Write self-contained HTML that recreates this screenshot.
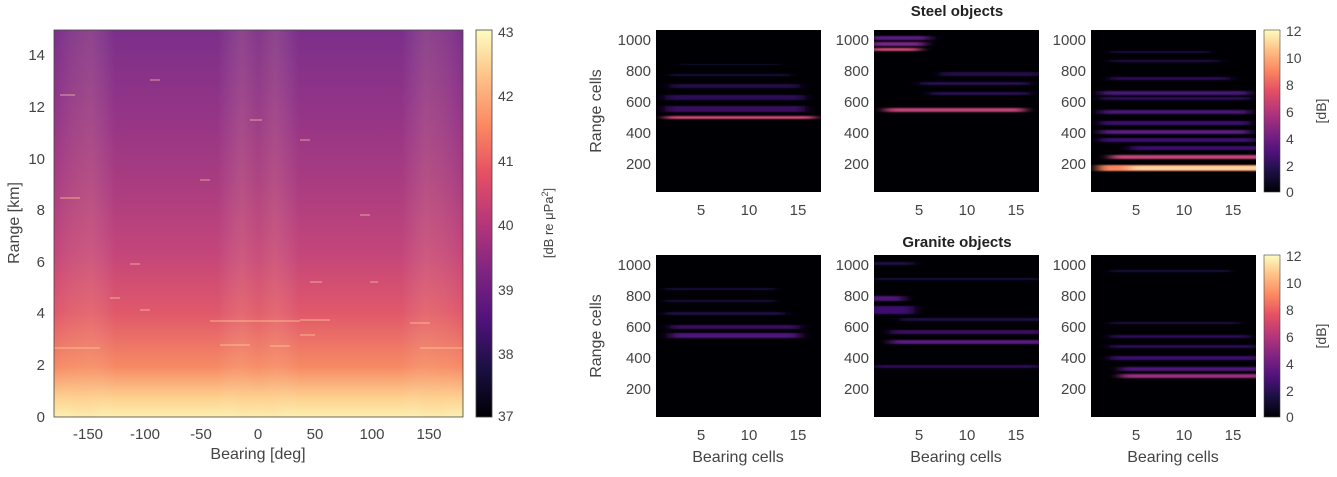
<!DOCTYPE html><html><head><meta charset="utf-8"><style>body{margin:0;background:#fff}svg{display:block;font-family:"Liberation Sans",sans-serif}</style></head><body>
<svg width="1337" height="477" viewBox="0 0 1337 477">
<defs>
<linearGradient id="bg" x1="0" y1="1" x2="0" y2="0">
<stop offset="0" stop-color="#fcf0b0"/><stop offset="0.05" stop-color="#fdd08e"/><stop offset="0.13" stop-color="#f68a64"/><stop offset="0.27" stop-color="#e0586a"/><stop offset="0.42" stop-color="#c4467a"/><stop offset="0.6" stop-color="#aa3c80"/><stop offset="0.8" stop-color="#923487"/><stop offset="1" stop-color="#7b2f8a"/></linearGradient>
<linearGradient id="vs" x1="0" y1="0" x2="1" y2="0">
<stop offset="0" stop-color="#fff" stop-opacity="0"/><stop offset="0.05" stop-color="#ffd0a0" stop-opacity="0.1"/><stop offset="0.09" stop-color="#ffd0a0" stop-opacity="0.14"/><stop offset="0.15" stop-color="#fff" stop-opacity="0"/><stop offset="0.4" stop-color="#fff" stop-opacity="0"/><stop offset="0.46" stop-color="#ffd0a0" stop-opacity="0.14"/><stop offset="0.5" stop-color="#ffd0a0" stop-opacity="0.06"/><stop offset="0.54" stop-color="#ffd0a0" stop-opacity="0.14"/><stop offset="0.6" stop-color="#fff" stop-opacity="0"/><stop offset="0.85" stop-color="#fff" stop-opacity="0"/><stop offset="0.91" stop-color="#ffd0a0" stop-opacity="0.14"/><stop offset="0.95" stop-color="#ffd0a0" stop-opacity="0.1"/><stop offset="1" stop-color="#fff" stop-opacity="0"/></linearGradient>
<linearGradient id="mag" x1="0" y1="1" x2="0" y2="0">
<stop offset="0" stop-color="#000004"/><stop offset="0.13" stop-color="#1c1044"/><stop offset="0.25" stop-color="#4f127b"/><stop offset="0.38" stop-color="#812581"/><stop offset="0.5" stop-color="#b5367a"/><stop offset="0.63" stop-color="#e55064"/><stop offset="0.75" stop-color="#fb8761"/><stop offset="0.88" stop-color="#fec287"/><stop offset="1" stop-color="#fcfdbf"/></linearGradient>
<filter id="bl" x="-20%" y="-200%" width="140%" height="500%"><feGaussianBlur stdDeviation="6 0.8"/></filter>
<clipPath id="c1"><rect x="656" y="30" width="165" height="162"/></clipPath>
<clipPath id="c2"><rect x="874" y="30" width="165" height="162"/></clipPath>
<clipPath id="c3"><rect x="1091" y="30" width="165" height="162"/></clipPath>
<clipPath id="c4"><rect x="656" y="255" width="165" height="162"/></clipPath>
<clipPath id="c5"><rect x="874" y="255" width="165" height="162"/></clipPath>
<clipPath id="c6"><rect x="1091" y="255" width="165" height="162"/></clipPath>
</defs>
<rect x="54" y="30" width="409" height="387" fill="url(#bg)"/>
<rect x="54" y="30" width="409" height="387" fill="url(#vs)"/>
<g stroke="#ffd9a0" stroke-width="1.2" opacity="0.55">
<line x1="54" y1="348" x2="100" y2="348"/><line x1="420" y1="348" x2="463" y2="348"/>
<line x1="210" y1="321" x2="300" y2="321"/><line x1="300" y1="320" x2="330" y2="320"/>
<line x1="220" y1="345" x2="250" y2="345"/><line x1="270" y1="346" x2="290" y2="346"/>
<line x1="410" y1="323" x2="430" y2="323"/><line x1="300" y1="335" x2="315" y2="335"/>
<line x1="140" y1="310" x2="150" y2="310"/><line x1="110" y1="298" x2="120" y2="298"/>
<line x1="310" y1="282" x2="322" y2="282"/><line x1="370" y1="282" x2="378" y2="282"/>
<line x1="130" y1="264" x2="140" y2="264"/><line x1="360" y1="215" x2="370" y2="215"/>
<line x1="60" y1="198" x2="80" y2="198"/><line x1="200" y1="180" x2="210" y2="180"/>
<line x1="60" y1="95" x2="75" y2="95"/><line x1="250" y1="120" x2="262" y2="120"/>
<line x1="150" y1="80" x2="160" y2="80"/><line x1="300" y1="140" x2="310" y2="140"/>
</g>
<rect x="54" y="30" width="409" height="387" fill="none" stroke="#444" stroke-width="0.8"/>
<g font-size="15" fill="#444" text-anchor="middle">
<text x="88" y="439">-150</text><text x="145" y="439">-100</text><text x="201" y="439">-50</text><text x="258" y="439">0</text><text x="315" y="439">50</text><text x="372" y="439">100</text><text x="429" y="439">150</text>
<text x="258" y="459" font-size="16">Bearing [deg]</text>
</g>
<g font-size="15" fill="#444" text-anchor="end">
<text x="45" y="422">0</text><text x="45" y="370">2</text><text x="45" y="318">4</text><text x="45" y="267">6</text><text x="45" y="215">8</text><text x="45" y="164">10</text><text x="45" y="112">12</text><text x="45" y="60">14</text>
</g>
<text transform="translate(19,223) rotate(-90)" font-size="16" fill="#444" text-anchor="middle">Range [km]</text>
<rect x="476" y="30" width="16" height="387" fill="url(#mag)" stroke="#444" stroke-width="0.8"/>
<g font-size="14" fill="#444">
<text x="498" y="37">43</text><text x="498" y="101">42</text><text x="498" y="166">41</text><text x="498" y="230">40</text><text x="498" y="295">39</text><text x="498" y="359">38</text><text x="498" y="421">37</text>
</g>
<text transform="translate(553,223) rotate(-90)" font-size="13" fill="#444" text-anchor="middle">[dB re μPa<tspan font-size="9" dy="-5">2</tspan><tspan dy="5">]</tspan></text>

<rect x="656" y="30" width="165" height="162" fill="#000004"/>
<rect x="874" y="30" width="165" height="162" fill="#000004"/>
<rect x="1091" y="30" width="165" height="162" fill="#000004"/>
<rect x="656" y="255" width="165" height="162" fill="#000004"/>
<rect x="874" y="255" width="165" height="162" fill="#000004"/>
<rect x="1091" y="255" width="165" height="162" fill="#000004"/>
<g clip-path="url(#c1)"><g filter="url(#bl)">
<rect x="665" y="116" width="150" height="3" fill="#d04a76"/>
<rect x="665" y="106" width="140" height="6" fill="#3a1060"/>
<rect x="665" y="95" width="140" height="5" fill="#2c0c55"/>
<rect x="670" y="84" width="130" height="4" fill="#21084a"/>
<rect x="670" y="74" width="120" height="2" fill="#1a0840"/>
<rect x="680" y="64" width="100" height="1" fill="#1a0840"/>
</g></g>
<g clip-path="url(#c2)"><g filter="url(#bl)">
<rect x="870" y="36" width="60" height="4" fill="#5a1a80"/>
<rect x="870" y="42" width="55" height="4" fill="#7a2685"/>
<rect x="870" y="48" width="50" height="3" fill="#d04a76"/>
<rect x="885" y="108" width="140" height="4" fill="#c04279"/>
<rect x="930" y="92" width="100" height="3" fill="#2a0c55"/>
<rect x="920" y="82" width="110" height="3" fill="#2c0c58"/>
<rect x="940" y="72" width="100" height="4" fill="#22084a"/>
</g></g>
<g clip-path="url(#c3)"><g filter="url(#bl)">
<rect x="1098" y="165" width="170" height="6" fill="#fb8761"/>
<rect x="1130" y="166" width="140" height="4" fill="#fdd6a0"/>
<rect x="1110" y="155" width="160" height="4" fill="#c64677"/>
<rect x="1130" y="146" width="140" height="4" fill="#3e1170"/>
<rect x="1100" y="138" width="156" height="4" fill="#3e1170"/>
<rect x="1100" y="130" width="150" height="4" fill="#5a1a80"/>
<rect x="1100" y="121" width="150" height="4" fill="#3e1170"/>
<rect x="1100" y="110" width="150" height="4" fill="#4a1577"/>
<rect x="1100" y="97" width="150" height="3" fill="#2c0c58"/>
<rect x="1100" y="91" width="150" height="4" fill="#4a1577"/>
<rect x="1110" y="77" width="120" height="3" fill="#2a0c55"/>
<rect x="1110" y="60" width="110" height="2" fill="#22084a"/>
<rect x="1110" y="51" width="100" height="2" fill="#1a0840"/>
</g></g>
<g clip-path="url(#c4)"><g filter="url(#bl)">
<rect x="670" y="333" width="130" height="5" fill="#4f127b"/>
<rect x="670" y="325" width="130" height="4" fill="#3a1060"/>
<rect x="665" y="312" width="120" height="3" fill="#22084a"/>
<rect x="665" y="300" width="110" height="2" fill="#1a0840"/>
<rect x="665" y="288" width="110" height="2" fill="#1a0840"/>
</g></g>
<g clip-path="url(#c5)"><g filter="url(#bl)">
<rect x="874" y="365" width="165" height="3" fill="#2c0c58"/>
<rect x="890" y="340" width="155" height="4" fill="#5a1a80"/>
<rect x="890" y="330" width="155" height="4" fill="#3a1060"/>
<rect x="868" y="306" width="46" height="8" fill="#3e1170"/>
<rect x="868" y="296" width="36" height="5" fill="#4f127b"/>
<rect x="900" y="318" width="145" height="3" fill="#22084a"/>
<rect x="874" y="278" width="165" height="2" fill="#1a0840"/>
<rect x="870" y="262" width="44" height="3" fill="#22084a"/>
</g></g>
<g clip-path="url(#c6)"><g filter="url(#bl)">
<rect x="1120" y="374" width="145" height="4" fill="#9a2e80"/>
<rect x="1120" y="367" width="145" height="4" fill="#4f127b"/>
<rect x="1110" y="356" width="150" height="4" fill="#3e1170"/>
<rect x="1110" y="345" width="146" height="3" fill="#2c0c58"/>
<rect x="1110" y="335" width="140" height="3" fill="#2c0c58"/>
<rect x="1110" y="322" width="130" height="2" fill="#22084a"/>
<rect x="1110" y="270" width="120" height="2" fill="#1a0840"/>
</g></g>
<g font-size="15" fill="#222">
<text x="957" y="16" font-weight="bold" text-anchor="middle">Steel objects</text>
<text x="957" y="247" font-weight="bold" text-anchor="middle">Granite objects</text>
</g>
<g font-size="15" fill="#444" text-anchor="end">
<text x="651" y="45">1000</text><text x="651" y="76">800</text><text x="651" y="107">600</text><text x="651" y="138">400</text><text x="651" y="169">200</text>
<text x="869" y="45">1000</text><text x="869" y="76">800</text><text x="869" y="107">600</text><text x="869" y="138">400</text><text x="869" y="169">200</text>
<text x="1086" y="45">1000</text><text x="1086" y="76">800</text><text x="1086" y="107">600</text><text x="1086" y="138">400</text><text x="1086" y="169">200</text>
<text x="651" y="270">1000</text><text x="651" y="301">800</text><text x="651" y="332">600</text><text x="651" y="363">400</text><text x="651" y="394">200</text>
<text x="869" y="270">1000</text><text x="869" y="301">800</text><text x="869" y="332">600</text><text x="869" y="363">400</text><text x="869" y="394">200</text>
<text x="1086" y="270">1000</text><text x="1086" y="301">800</text><text x="1086" y="332">600</text><text x="1086" y="363">400</text><text x="1086" y="394">200</text>
</g>
<g font-size="15" fill="#444" text-anchor="middle">
<text x="701" y="215">5</text><text x="749" y="215">10</text><text x="798" y="215">15</text>
<text x="919" y="215">5</text><text x="967" y="215">10</text><text x="1016" y="215">15</text>
<text x="1136" y="215">5</text><text x="1184" y="215">10</text><text x="1233" y="215">15</text>
<text x="701" y="440">5</text><text x="749" y="440">10</text><text x="798" y="440">15</text>
<text x="919" y="440">5</text><text x="967" y="440">10</text><text x="1016" y="440">15</text>
<text x="1136" y="440">5</text><text x="1184" y="440">10</text><text x="1233" y="440">15</text>
<text x="738" y="462" font-size="16">Bearing cells</text><text x="956" y="462" font-size="16">Bearing cells</text><text x="1173" y="462" font-size="16">Bearing cells</text>
</g>
<text transform="translate(601,111) rotate(-90)" font-size="16" fill="#444" text-anchor="middle">Range cells</text>
<text transform="translate(601,336) rotate(-90)" font-size="16" fill="#444" text-anchor="middle">Range cells</text>
<rect x="1264" y="30" width="16" height="162" fill="url(#mag)" stroke="#444" stroke-width="0.6"/>
<rect x="1264" y="255" width="16" height="162" fill="url(#mag)" stroke="#444" stroke-width="0.6"/>
<g font-size="14" fill="#444">
<text x="1286" y="36">12</text><text x="1286" y="63">10</text><text x="1286" y="90">8</text><text x="1286" y="117">6</text><text x="1286" y="144">4</text><text x="1286" y="171">2</text><text x="1286" y="197">0</text>
<text x="1286" y="261">12</text><text x="1286" y="288">10</text><text x="1286" y="315">8</text><text x="1286" y="342">6</text><text x="1286" y="369">4</text><text x="1286" y="396">2</text><text x="1286" y="422">0</text>
</g>
<text transform="translate(1326,111) rotate(-90)" font-size="14" fill="#444" text-anchor="middle">[dB]</text>
<text transform="translate(1326,336) rotate(-90)" font-size="14" fill="#444" text-anchor="middle">[dB]</text>
</svg>
</body></html>
